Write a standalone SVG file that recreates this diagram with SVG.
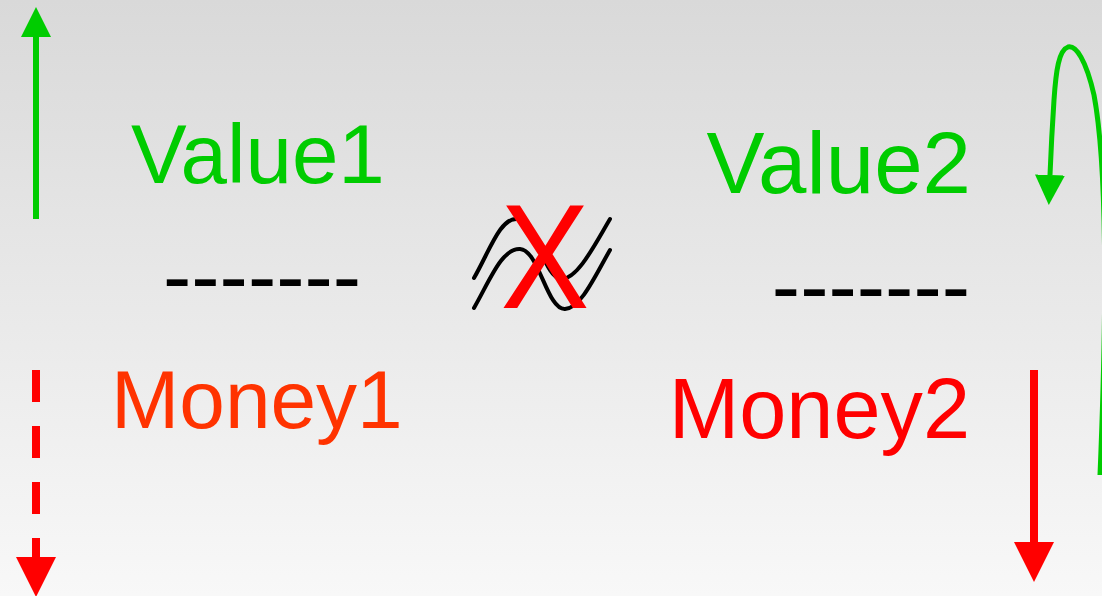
<svg xmlns="http://www.w3.org/2000/svg" width="1102" height="596" viewBox="0 0 1102 596">
  <defs>
    <linearGradient id="bg" x1="0" y1="0" x2="0" y2="1">
      <stop offset="0" stop-color="#d9d9d9"/>
      <stop offset="1" stop-color="#f8f8f8"/>
    </linearGradient>
    <marker id="headGreen" viewBox="0 0 30 30" refX="0" refY="15" markerWidth="30" markerHeight="30" markerUnits="userSpaceOnUse" orient="auto">
      <path d="M0 0 L30 15 L0 30 Z" fill="#00cc00"/>
    </marker>
    <marker id="headRed" viewBox="0 0 40 40" refX="0" refY="20" markerWidth="40" markerHeight="40" markerUnits="userSpaceOnUse" orient="auto">
      <path d="M0 0 L40 20 L0 40 Z" fill="#ff0000"/>
    </marker>
  </defs>
  <style>
    .lbl { font-family: "Liberation Sans", Arial, sans-serif; }
    .green { fill: #00cc00; }
    .orange { fill: #ff3300; }
    .red { fill: #ff0000; }
    .black { fill: #000000; }
    .wave { fill: none; stroke: #000000; stroke-width: 4; stroke-linecap: round; }
  </style>

  <rect x="0" y="0" width="1102" height="596" fill="url(#bg)"/>

  <!-- left column: value over money -->
  <g id="value1">
    <text class="lbl green" x="131" y="183" font-size="83.5">Value1</text>
  </g>
  <g id="divider1">
    <text class="lbl black" x="163" y="305" font-size="85">-------</text>
  </g>
  <g id="money1">
    <text class="lbl orange" x="111" y="428" font-size="82">Money1</text>
  </g>

  <!-- right column: value over money -->
  <g id="value2">
    <text class="lbl green" x="971" y="193" text-anchor="end" font-size="87">Value2</text>
  </g>
  <g id="divider2">
    <text class="lbl black" x="970" y="315" text-anchor="end" font-size="85">-------</text>
  </g>
  <g id="money2">
    <text class="lbl red" x="970" y="438" text-anchor="end" font-size="84.7">Money2</text>
  </g>

  <!-- crossed-out waves in the middle -->
  <g id="mismatch">
    <path class="wave" d="M474 278 C490 250 500 218 517 219 C536 220 544 280 562 279 C578 278 594 246 610 219"/>
    <path class="wave" d="M474 308 C490 280 502 248 520 249 C539 250 547 310 565 309 C581 308 595 276 610 250"/>
    <text transform="translate(545 308) scale(0.9 1)" x="0" y="0" text-anchor="middle" font-family="Liberation Sans, Arial, sans-serif" font-size="148" fill="#ff0000">X</text>
  </g>

  <!-- trend arrows -->
  <g id="connectors">
    <line x1="36" y1="219" x2="36" y2="37" stroke="#00cc00" stroke-width="6" marker-end="url(#headGreen)"/>
    <line x1="36" y1="370" x2="36" y2="557" stroke="#ff0000" stroke-width="8" stroke-dasharray="32 24" marker-end="url(#headRed)"/>
    <line x1="1034" y1="370" x2="1034" y2="542" stroke="#ff0000" stroke-width="8" marker-end="url(#headRed)"/>
    <path d="M1100 475 C1106 330 1108 170 1094 95 C1086 60 1076 45 1068 47 C1059 50 1056 70 1054 100 C1052 130 1051 150 1050 175" fill="none" stroke="#00cc00" stroke-width="5" marker-end="url(#headGreen)"/>
  </g>
</svg>
